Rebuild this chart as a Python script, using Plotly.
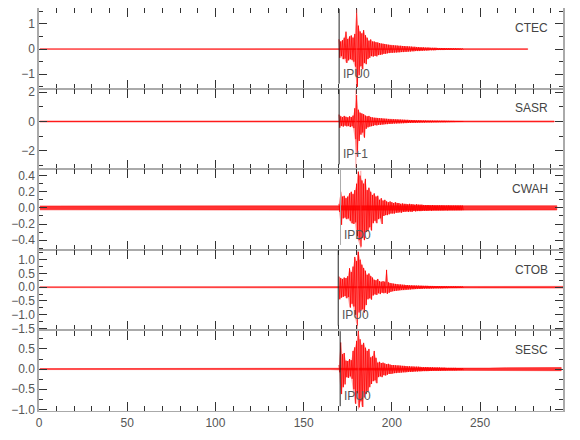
import plotly.graph_objects as go
from plotly.subplots import make_subplots

# ---------------- data ----------------
STATIONS = ["CTEC", "SASR", "CWAH", "CTOB", "SESC"]
PHASES = ["IPU0", "IP+1", "IPD0", "IPU0", "IPU0"]
ONSETS = [170.1, 170.1, 170.9, 169.6, 170.7]      # P pick times (s)
S_TIMES = [180.0, 179.6, 182.4, 180.5, 181.0]     # secondary marker times (s)
TRACE_START = [0.5, 0.5, 0.5, 0.5, 0.5]
TRACE_END = [277.0, 292.0, 293.5, 297.0, 296.0]
Y_RANGES = [[-1.57, 1.63], [-3.25, 2.24], [-0.52, 0.48], [-1.57, 1.36], [-1.04, 0.96]]
X_RANGE = [0, 297]

# background noise half-amplitude per 10 s block (0-300 s)
CTEC_NOISE = [0.012, 0.012, 0.012, 0.012, 0.012, 0.012, 0.012, 0.015, 0.012, 0.012,
              0.012, 0.012, 0.012, 0.012, 0.012, 0.012, 0.012, 0.015, 0.015, 0.015,
              0.015, 0.015, 0.015, 0.02, 0.02, 0.015, 0.015, 0.015, 0.015, 0.015]
SASR_NOISE = [0.03, 0.03, 0.03, 0.035, 0.03, 0.04, 0.03, 0.03, 0.03, 0.035,
              0.03, 0.03, 0.03, 0.03, 0.035, 0.03, 0.03, 0.035, 0.035, 0.035,
              0.035, 0.035, 0.035, 0.035, 0.04, 0.035, 0.035, 0.035, 0.035, 0.035]
CWAH_NOISE = [0.024, 0.026, 0.024, 0.027, 0.024, 0.025, 0.024, 0.026, 0.024, 0.024,
              0.025, 0.024, 0.026, 0.024, 0.025, 0.024, 0.024, 0.028, 0.028, 0.028,
              0.028, 0.028, 0.028, 0.028, 0.029, 0.027, 0.028, 0.027, 0.028, 0.027]
CTOB_NOISE = [0.015, 0.015, 0.017, 0.015, 0.015, 0.03, 0.015, 0.015, 0.017, 0.015,
              0.015, 0.015, 0.017, 0.035, 0.015, 0.015, 0.017, 0.025, 0.025, 0.025,
              0.025, 0.025, 0.025, 0.025, 0.02, 0.02, 0.02, 0.025, 0.025, 0.03]
SESC_NOISE = [0.012, 0.012, 0.012, 0.012, 0.012, 0.012, 0.016, 0.012, 0.016, 0.012,
              0.012, 0.012, 0.012, 0.012, 0.012, 0.012, 0.012, 0.025, 0.025, 0.025,
              0.025, 0.025, 0.025, 0.025, 0.025, 0.025, 0.035, 0.04, 0.028, 0.04]

# event window: per-second max / min, starting at EV_START
EV_START = 170.0
EV_STEP = 1.0

CTEC_HI = [0.39, 0.30, 0.35, 0.45, 0.69, 0.40, 0.50, 0.54, 0.45, 0.60,
           1.60, 0.93, 0.70, 0.62, 0.75, 0.55, 0.45, 0.33, 0.38, 0.30,
           0.30, 0.27, 0.26, 0.24, 0.22, 0.21, 0.20, 0.18, 0.17, 0.16,
           0.15, 0.15, 0.14, 0.14, 0.13, 0.13, 0.12, 0.12, 0.11, 0.11,
           0.10, 0.10, 0.09, 0.09, 0.08, 0.08, 0.07, 0.07, 0.07, 0.06,
           0.06, 0.06, 0.05, 0.05, 0.05, 0.05, 0.04, 0.04, 0.04, 0.04,
           0.04, 0.035, 0.035, 0.035, 0.03, 0.03, 0.03, 0.025, 0.025, 0.02, 0.02]
CTEC_LO = [-0.35, -0.28, -0.40, -0.38, -0.55, -0.45, -0.40, -0.43, -0.50, -0.70,
           -1.50, -1.04, -0.68, -0.80, -0.55, -0.60, -0.40, -0.35, -0.28, -0.30,
           -0.27, -0.29, -0.24, -0.23, -0.22, -0.19, -0.19, -0.17, -0.16, -0.15,
           -0.15, -0.14, -0.14, -0.13, -0.13, -0.12, -0.12, -0.11, -0.11, -0.10,
           -0.10, -0.09, -0.09, -0.08, -0.08, -0.08, -0.07, -0.07, -0.06, -0.06,
           -0.06, -0.05, -0.05, -0.05, -0.05, -0.04, -0.04, -0.04, -0.04, -0.04,
           -0.035, -0.035, -0.035, -0.03, -0.03, -0.03, -0.03, -0.025, -0.025, -0.02, -0.02]

SASR_HI = [0.47, 0.35, 0.30, 0.38, 0.32, 0.28, 0.35, 0.30, 0.40, 0.90,
           1.80, 0.80, 0.60, 0.55, 0.50, 0.40, 0.35, 0.38, 0.30, 0.28,
           0.26, 0.25, 0.24, 0.22, 0.22, 0.20, 0.19, 0.18, 0.17, 0.16,
           0.15, 0.15, 0.14, 0.14, 0.13, 0.13, 0.12, 0.12, 0.11, 0.11,
           0.10, 0.10, 0.09, 0.09, 0.08, 0.08, 0.08, 0.07, 0.07, 0.07,
           0.06, 0.06, 0.06, 0.06, 0.055, 0.055, 0.055, 0.05, 0.05, 0.05,
           0.05, 0.045, 0.045, 0.04, 0.04, 0.04, 0.035, 0.035, 0.035, 0.035, 0.035]
SASR_LO = [-0.43, -0.30, -0.35, -0.28, -0.33, -0.30, -0.38, -0.32, -0.45, -1.20,
           -2.40, -1.33, -0.90, -0.75, -1.10, -0.50, -0.40, -0.35, -0.32, -0.30,
           -0.25, -0.27, -0.23, -0.23, -0.21, -0.20, -0.18, -0.18, -0.16, -0.16,
           -0.15, -0.14, -0.14, -0.13, -0.13, -0.12, -0.12, -0.11, -0.11, -0.10,
           -0.10, -0.09, -0.09, -0.09, -0.08, -0.08, -0.07, -0.07, -0.07, -0.06,
           -0.06, -0.06, -0.06, -0.055, -0.055, -0.055, -0.05, -0.05, -0.05, -0.05,
           -0.05, -0.045, -0.045, -0.04, -0.04, -0.04, -0.035, -0.035, -0.035, -0.035, -0.035]

CWAH_HI = [0.05, 0.20, 0.14, 0.15, 0.12, 0.14, 0.18, 0.20, 0.17, 0.22,
           0.30, 0.45, 0.40, 0.34, 0.30, 0.36, 0.22, 0.25, 0.20, 0.16,
           0.18, 0.14, 0.15, 0.10, 0.12, 0.09, 0.10, 0.08, 0.07, 0.08,
           0.07, 0.06, 0.07, 0.06, 0.06, 0.05, 0.055, 0.05, 0.05, 0.045,
           0.05, 0.045, 0.045, 0.04, 0.045, 0.04, 0.04, 0.04, 0.035, 0.035,
           0.035, 0.035, 0.03, 0.035, 0.03, 0.03, 0.03, 0.03, 0.03, 0.03,
           0.028, 0.028, 0.03, 0.028, 0.028, 0.028, 0.028, 0.028, 0.028, 0.028, 0.028]
CWAH_LO = [-0.05, -0.21, -0.13, -0.12, -0.14, -0.13, -0.16, -0.19, -0.20, -0.18,
           -0.35, -0.40, -0.48, -0.37, -0.40, -0.30, -0.29, -0.24, -0.28, -0.19,
           -0.16, -0.19, -0.14, -0.13, -0.20, -0.10, -0.09, -0.09, -0.08, -0.07,
           -0.07, -0.07, -0.06, -0.06, -0.055, -0.06, -0.05, -0.05, -0.045, -0.05,
           -0.045, -0.05, -0.04, -0.045, -0.04, -0.04, -0.04, -0.035, -0.035, -0.035,
           -0.035, -0.03, -0.035, -0.03, -0.03, -0.03, -0.03, -0.03, -0.03, -0.03,
           -0.028, -0.03, -0.028, -0.028, -0.028, -0.028, -0.028, -0.028, -0.028, -0.028, -0.028]

CTOB_HI = [0.39, 0.33, 0.30, 0.35, 0.33, 0.40, 0.69, 0.55, 0.75, 1.10,
           0.95, 1.29, 1.00, 0.82, 0.70, 0.60, 0.45, 0.50, 0.40, 0.35,
           0.27, 0.25, 0.30, 0.22, 0.20, 0.22, 0.20, 0.63, 0.18, 0.15,
           0.14, 0.13, 0.12, 0.11, 0.10, 0.10, 0.09, 0.09, 0.08, 0.08,
           0.07, 0.07, 0.065, 0.065, 0.06, 0.06, 0.055, 0.055, 0.05, 0.05,
           0.05, 0.045, 0.045, 0.045, 0.04, 0.04, 0.04, 0.04, 0.035, 0.035,
           0.035, 0.035, 0.03, 0.03, 0.03, 0.03, 0.03, 0.025, 0.025, 0.025, 0.025]
CTOB_LO = [-0.44, -0.38, -0.35, -0.32, -0.40, -0.36, -0.74, -0.60, -0.70, -1.00,
           -1.39, -0.92, -0.85, -0.80, -0.92, -0.65, -0.44, -0.40, -0.45, -0.30,
           -0.26, -0.28, -0.22, -0.25, -0.20, -0.22, -0.20, -0.24, -0.20, -0.17,
           -0.15, -0.14, -0.13, -0.12, -0.11, -0.10, -0.10, -0.09, -0.09, -0.08,
           -0.08, -0.07, -0.07, -0.065, -0.06, -0.06, -0.06, -0.055, -0.05, -0.05,
           -0.05, -0.05, -0.045, -0.045, -0.04, -0.04, -0.04, -0.04, -0.04, -0.035,
           -0.035, -0.035, -0.03, -0.03, -0.03, -0.03, -0.03, -0.025, -0.025, -0.025, -0.025]

SESC_HI = [0.10, 0.66, 0.37, 0.40, 0.21, 0.20, 0.25, 0.22, 0.45, 0.54,
           0.70, 0.95, 0.74, 0.60, 0.65, 0.53, 0.45, 0.50, 0.29, 0.32,
           0.45, 0.28, 0.16, 0.18, 0.15, 0.16, 0.14, 0.12, 0.13, 0.11,
           0.10, 0.10, 0.095, 0.09, 0.09, 0.085, 0.08, 0.08, 0.075, 0.07,
           0.07, 0.065, 0.065, 0.06, 0.06, 0.06, 0.055, 0.05, 0.05, 0.05,
           0.05, 0.045, 0.045, 0.045, 0.04, 0.04, 0.04, 0.04, 0.035, 0.035,
           0.035, 0.03, 0.03, 0.03, 0.03, 0.03, 0.03, 0.025, 0.025, 0.025, 0.025]
SESC_LO = [-0.08, -0.62, -0.45, -0.38, -0.20, -0.22, -0.18, -0.24, -0.50, -0.86,
           -0.60, -0.95, -0.80, -0.94, -0.70, -0.62, -0.55, -0.45, -0.37, -0.30,
           -0.28, -0.35, -0.20, -0.18, -0.20, -0.15, -0.16, -0.14, -0.12, -0.12,
           -0.11, -0.10, -0.10, -0.09, -0.09, -0.085, -0.08, -0.08, -0.075, -0.07,
           -0.07, -0.07, -0.065, -0.06, -0.06, -0.055, -0.055, -0.05, -0.05, -0.05,
           -0.05, -0.045, -0.045, -0.04, -0.04, -0.04, -0.04, -0.04, -0.035, -0.035,
           -0.035, -0.03, -0.03, -0.03, -0.03, -0.03, -0.03, -0.025, -0.025, -0.025, -0.025]

NOISE = [CTEC_NOISE, SASR_NOISE, CWAH_NOISE, CTOB_NOISE, SESC_NOISE]
HI = [CTEC_HI, SASR_HI, CWAH_HI, CTOB_HI, SESC_HI]
LO = [CTEC_LO, SASR_LO, CWAH_LO, CTOB_LO, SESC_LO]

# ---------------- styles ----------------
RED = "#ff0000"
FONT = "Liberation Sans Narrow, Arial Narrow, Liberation Sans, Arial, sans-serif"
ONSET_COLORS = ["#222", "#222", "#aaa", "#222", "#222"]
Y_DTICK = [1, 2, 0.2, 0.5, 0.5]
Y_MINOR = [0.5, 1, 0.1, 0.25, 0.25]
Y_FMT = ["d", "d", ".1f", ".1f", ".1f"]

fig = make_subplots(rows=5, cols=1, shared_xaxes=True, vertical_spacing=0)


def band(start, end, noise):
    xs, vals = [start], [noise[0]]
    for i, n in enumerate(noise):
        c = 10 * i + 5
        if start < c < end:
            xs.append(c)
            vals.append(n)
    xs.append(end)
    vals.append(noise[min(int(end // 10), len(noise) - 1)])
    return xs + xs[::-1], vals + [-v for v in vals[::-1]]


def zigzag(hi, lo):
    xs, ys = [], []
    for i, (h, l) in enumerate(zip(hi, lo)):
        t = EV_START + i * EV_STEP
        xs += [t, t + EV_STEP / 2]
        ys += [h, l]
    return xs, ys


def envelope(hi, lo):
    ts = [EV_START + i * EV_STEP for i in range(len(hi))]
    return ts + ts[::-1], list(hi) + list(lo)[::-1]


for k in range(5):
    row = k + 1
    bx, by = band(TRACE_START[k], TRACE_END[k], NOISE[k])
    fig.add_trace(go.Scatter(x=bx, y=by, mode="lines", fill="toself",
                             fillcolor="rgba(255,0,0,0.8)",
                             line=dict(color="rgba(255,0,0,0.55)", width=0.9),
                             hoverinfo="skip", showlegend=False), row=row, col=1)
    ex, ey = envelope(HI[k], LO[k])
    fig.add_trace(go.Scatter(x=ex, y=ey, mode="lines", fill="toself",
                             fillcolor="rgba(255,0,0,0.35)",
                             line=dict(color="rgba(255,0,0,0)", width=0),
                             hoverinfo="skip", showlegend=False), row=row, col=1)
    zx, zy = zigzag(HI[k], LO[k])
    fig.add_trace(go.Scatter(x=zx, y=zy, mode="lines",
                             line=dict(color=RED, width=0.8),
                             hoverinfo="skip", showlegend=False), row=row, col=1)

    xref = "x" if k == 0 else f"x{row}"
    yref = "y" if k == 0 else f"y{row}"
    # S marker (light red)
    fig.add_shape(type="line", x0=S_TIMES[k], x1=S_TIMES[k], y0=0.02, y1=0.98,
                  xref=xref, yref=f"{yref} domain",
                  line=dict(color="rgba(255,80,80,0.55)", width=1))
    # P onset line
    fig.add_shape(type="line", x0=ONSETS[k], x1=ONSETS[k], y0=0.06, y1=0.99,
                  xref=xref, yref=f"{yref} domain",
                  line=dict(color=ONSET_COLORS[k], width=1))
    fig.add_annotation(x=ONSETS[k] + 1.0, y=0.185, xref=xref, yref=f"{yref} domain",
                       text=PHASES[k], showarrow=False, xanchor="left", yanchor="middle",
                       font=dict(family=FONT, size=12, color="#555"))
    fig.add_annotation(x=0.976, y=0.755, xref=f"{xref} domain", yref=f"{yref} domain",
                       text=STATIONS[k], showarrow=False, xanchor="right", yanchor="middle",
                       font=dict(family=FONT, size=12, color="#444"))

    fig.update_yaxes(row=row, col=1, range=Y_RANGES[k], dtick=Y_DTICK[k], tick0=0,
                     tickformat=Y_FMT[k], ticks="inside", ticklen=8, tickwidth=1,
                     tickcolor="#333", showline=True, linecolor="#aaa", linewidth=1.5,
                     mirror="ticks", showgrid=False, zeroline=False, automargin=False,
                     minor=dict(dtick=Y_MINOR[k], tick0=0, ticks="inside", ticklen=4,
                                tickcolor="#333", showgrid=False),
                     tickfont=dict(family=FONT, size=12, color="#555"))

fig.update_xaxes(range=X_RANGE, dtick=50, tick0=0, ticks="inside", ticklen=9, tickwidth=1,
                 tickcolor="#333", showline=True, linecolor="#aaa", linewidth=1.2,
                 mirror="ticks", showgrid=False, zeroline=False, automargin=False,
                 minor=dict(dtick=10, tick0=0, ticks="inside", ticklen=5,
                            tickcolor="#333", showgrid=False),
                 tickfont=dict(family=FONT, size=12, color="#555"))

# page body has an 8 px default margin: size the figure to fit the 580x440 window
fig.update_layout(width=572, height=432, margin=dict(l=31, r=17, t=0, b=29),
                  plot_bgcolor="white", paper_bgcolor="white",
                  font=dict(family=FONT, size=12, color="#555"))

fig.write_html("out.html")
